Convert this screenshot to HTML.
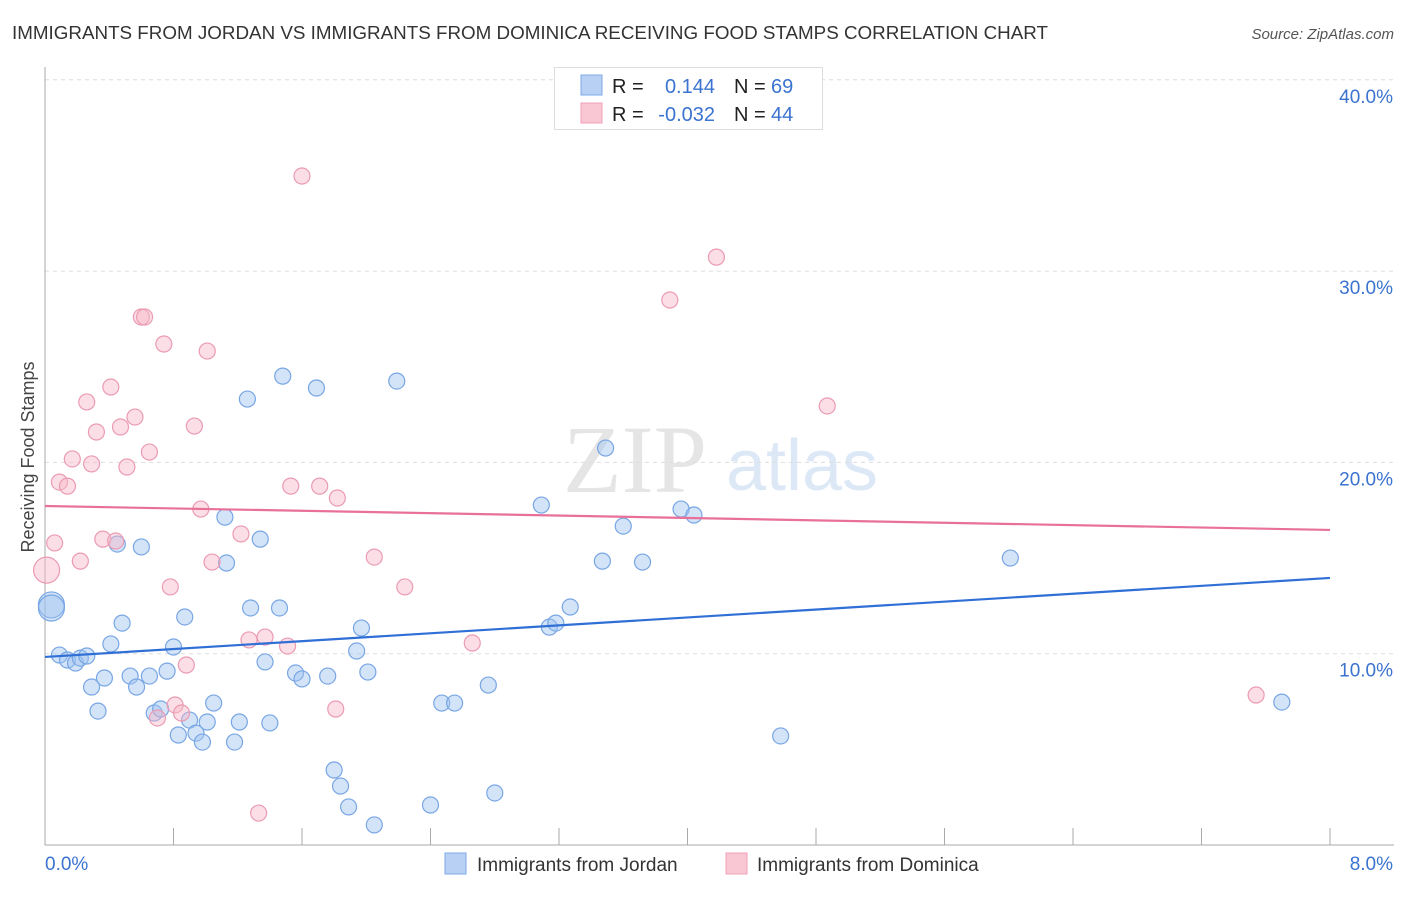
<!DOCTYPE html>
<html><head><meta charset="utf-8"><style>
html,body{margin:0;padding:0;background:#fff;}
body{width:1406px;height:892px;overflow:hidden;font-family:"Liberation Sans",sans-serif;}
</style></head><body>
<svg id="chart" width="1406" height="892" xmlns="http://www.w3.org/2000/svg" font-family="Liberation Sans, sans-serif">
<text x="12" y="39" font-size="18" fill="#333" textLength="1036" lengthAdjust="spacingAndGlyphs">IMMIGRANTS FROM JORDAN VS IMMIGRANTS FROM DOMINICA RECEIVING FOOD STAMPS CORRELATION CHART</text>
<text x="1394" y="39" font-size="15" fill="#555" font-style="italic" text-anchor="end">Source: ZipAtlas.com</text>
<text transform="translate(34,457) rotate(-90)" font-size="18" fill="#444" text-anchor="middle">Receiving Food Stamps</text>
<g opacity="0.25">
<text x="635" y="492" font-size="96" font-family="Liberation Serif, serif" fill="#999" text-anchor="middle">ZIP</text>
<text x="802" y="490" font-size="72" fill="#7aa8e0" text-anchor="middle">atlas</text>
</g>
<g id="grid"></g>
<g id="axes"></g>
<g id="points"></g>
<g id="trends"></g>
<g>
<rect x="554.5" y="67.5" width="268" height="62" fill="#fff" stroke="#ddd"/>
<rect x="581" y="75" width="21" height="20" fill="#b7d0f3" stroke="#7eaae6"/>
<rect x="581" y="103" width="21" height="20" fill="#f9c6d4" stroke="#eea3b9"/>
<text x="612" y="93" font-size="20" fill="#222">R =</text>
<text x="715" y="93" font-size="20" fill="#3b73d0" text-anchor="end">0.144</text>
<text x="734" y="93" font-size="20" fill="#222">N =</text>
<text x="771" y="93" font-size="20" fill="#3b73d0">69</text>
<text x="612" y="121" font-size="20" fill="#222">R =</text>
<text x="715" y="121" font-size="20" fill="#3b73d0" text-anchor="end">-0.032</text>
<text x="734" y="121" font-size="20" fill="#222">N =</text>
<text x="771" y="121" font-size="20" fill="#3b73d0">44</text>
</g>
<g>
<rect x="445" y="853" width="21" height="21" fill="#b7d0f3" stroke="#7eaae6"/>
<text x="477" y="871" font-size="19" fill="#333">Immigrants from Jordan</text>
<rect x="726" y="853" width="21" height="21" fill="#f9c6d4" stroke="#eea3b9"/>
<text x="757" y="871" font-size="19" fill="#333">Immigrants from Dominica</text>
</g>
</svg>
<script>
const xTicks = [0,0.8,1.6,2.4,3.2,4,4.8,5.6,6.4,7.2,8];
const yTicks = [10,20,30,40];
const yTickLabels = ["10.0%","20.0%","30.0%","40.0%"];
const xEndLabels = ["0.0%","8.0%"];
const jordanX = [0.04,0.04,0.09,0.14,0.19,0.22,0.26,0.29,0.33,0.37,0.41,0.45,0.48,0.53,0.57,0.60,0.65,0.68,0.72,0.76,0.80,0.83,0.87,0.90,0.94,0.98,1.01,1.05,1.12,1.13,1.18,1.21,1.26,1.28,1.34,1.37,1.40,1.46,1.48,1.56,1.60,1.69,1.76,1.80,1.84,1.89,1.94,1.97,2.01,2.05,2.19,2.40,2.47,2.55,2.76,2.80,3.09,3.14,3.18,3.27,3.47,3.49,3.60,3.72,3.96,4.04,4.58,6.01,7.70];
const jordanY = [12.55,12.39,9.93,9.67,9.51,9.77,9.88,8.26,7.00,8.73,10.51,15.73,11.60,8.83,8.26,15.58,8.83,6.90,7.11,9.09,10.35,5.75,11.92,6.53,5.85,5.38,6.43,7.42,17.14,14.74,5.38,6.43,23.31,12.39,15.99,9.57,6.38,12.39,24.51,8.99,8.68,23.89,8.83,3.92,3.08,1.99,10.14,11.34,9.04,1.05,24.25,2.09,7.42,7.42,8.36,2.72,17.77,11.39,11.60,12.44,14.84,20.75,16.67,14.79,17.56,17.25,5.70,15.00,7.47];
const jordanSize = [13,13];
const dominicaX = [0.01,0.06,0.09,0.14,0.17,0.22,0.26,0.29,0.32,0.36,0.41,0.44,0.47,0.51,0.56,0.60,0.62,0.65,0.70,0.74,0.78,0.81,0.85,0.88,0.93,0.97,1.01,1.04,1.22,1.27,1.33,1.37,1.51,1.53,1.60,1.71,1.81,1.82,2.05,2.24,2.66,3.89,4.18,4.87,7.54];
const dominicaY = [14.37,15.79,18.97,18.76,20.18,14.84,23.16,19.92,21.59,15.99,23.94,15.89,21.85,19.76,22.37,27.60,27.60,20.54,6.64,26.19,13.49,7.32,6.90,9.41,21.90,17.56,25.82,14.79,16.26,10.72,1.67,10.87,10.40,18.76,34.97,18.76,7.11,18.14,15.05,13.49,10.56,28.49,30.73,22.95,7.84];
const jordanTrend = [9.83,13.96];
const dominicaTrend = [17.72,16.47];

const NS="http://www.w3.org/2000/svg";
const X0=45,X1=1330,Y0=845,PXPER=19.13;
function sx(v){return X0+(v/8)*(X1-X0);}
function sy(v){return Y0-v*PXPER;}
function mk(tag,attrs,parent){const e=document.createElementNS(NS,tag);for(const k in attrs)e.setAttribute(k,attrs[k]);parent.appendChild(e);return e;}
const grid=document.getElementById('grid'),axes=document.getElementById('axes'),pts=document.getElementById('points'),tr=document.getElementById('trends');
yTicks.forEach((t,i)=>{
  const l=mk('line',{x1:45,x2:1394,y1:sy(t),y2:sy(t),stroke:'#ddd','stroke-dasharray':'4,4'},grid);
  
  
  const tx=mk('text',{x:1393,y:sy(t)+23,'font-size':19,fill:'#3b73d0','text-anchor':'end'},axes);
  tx.textContent=yTickLabels[i];
  
  
});
const ax=mk('line',{x1:45,x2:45,y1:67,y2:845,stroke:'#aaa'},axes);


const bx=mk('line',{x1:45,x2:1394,y1:845,y2:845,stroke:'#aaa'},axes);


xTicks.forEach(t=>{
  const l=mk('line',{x1:sx(t),x2:sx(t),y1:828,y2:845,stroke:'#aaa'},axes);
  
  
});
const xl0=mk('text',{x:45,y:870,'font-size':19,fill:'#3b73d0'},axes);xl0.textContent=xEndLabels[0];


const xl1=mk('text',{x:1393,y:870,'font-size':19,fill:'#3b73d0','text-anchor':'end'},axes);xl1.textContent=xEndLabels[1];


jordanX.forEach((x,i)=>{
  const c=mk('circle',{cx:sx(x),cy:sy(jordanY[i]),r:jordanSize[i]||8,fill:'rgba(160,196,240,0.45)',stroke:'#78a6e4','stroke-width':1.2},pts);
  
  
});
dominicaX.forEach((x,i)=>{
  const c=mk('circle',{cx:sx(x),cy:sy(dominicaY[i]),r:i===0?13:8,fill:'rgba(246,182,200,0.45)',stroke:'#eb9bb3','stroke-width':1.2},pts);
  
  
});
const t1=mk('line',{x1:sx(0),y1:sy(jordanTrend[0]),x2:sx(8),y2:sy(jordanTrend[1]),stroke:'#2f6fd6','stroke-width':2.2},tr);


const t2=mk('line',{x1:sx(0),y1:sy(dominicaTrend[0]),x2:sx(8),y2:sy(dominicaTrend[1]),stroke:'#e8709a','stroke-width':2.2},tr);


</script>
</body></html>
